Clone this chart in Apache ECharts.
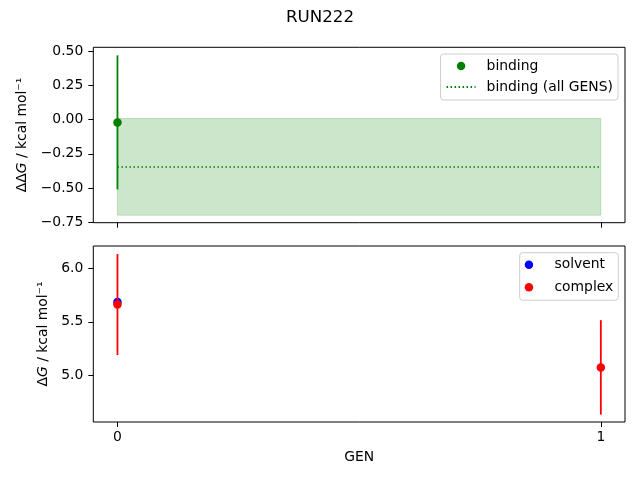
<!DOCTYPE html>
<html>
<head>
<meta charset="utf-8">
<script src="https://cdn.jsdelivr.net/npm/echarts@6/dist/echarts.min.js"></script>
<style>html,body{margin:0;padding:0;background:#fff}#c{width:640px;height:480px}</style>
</head>
<body>
<div id="c"></div>
<script>
// ---- data ----
const gens = [0, 1];
const bindingGen = [0];
const bindingVal = [-0.02];
const bindingErr = [0.49];
const bindingAll = -0.345;
const bindingAllErr = 0.353;
const solventGen = [0];
const solventVal = [5.685];
const complexGen = [0, 1];
const complexVal = [5.66, 5.075];
const complexErr = [0.47, 0.44];
const topTicks = [-0.75, -0.5, -0.25, 0, 0.25, 0.5];
const bottomTicks = [5.0, 5.5, 6.0];
const xTicks = [0, 1];

const FONT = 'DejaVu Sans';
const fs = 13.9;

function errData(xs, vs, es) {
  return xs.map((x, i) => [x, vs[i] - es[i], vs[i] + es[i]]);
}
function errRender(color) {
  return function (params, api) {
    const p1 = api.coord([api.value(0), api.value(1)]);
    const p2 = api.coord([api.value(0), api.value(2)]);
    return { type: 'line', shape: { x1: p1[0], y1: p1[1], x2: p2[0], y2: p2[1] },
      style: { stroke: color, lineWidth: 1.8 } };
  };
}
const fmt2 = v => (Math.abs(v) < 1e-9 ? '0.00' : (v < 0 ? '\u2212' : '') + Math.abs(v).toFixed(2));

const chart = echarts.init(document.getElementById('c'));
const axisCommon = {
  axisLine: { show: false, onZero: false },
  axisTick: { show: true, length: 5, lineStyle: { color: '#000', width: 1 } },
  splitLine: { show: false },
  axisLabel: { color: '#000', fontFamily: FONT, fontSize: fs }
};
const legendCommon = {
  orient: 'vertical', itemWidth: 29, itemHeight: 8.5,
  backgroundColor: 'rgba(255,255,255,0.8)', borderColor: '#cccccc', borderWidth: 1, borderRadius: 3,
  textStyle: { fontFamily: FONT, fontSize: fs, color: '#000', lineHeight: 14, padding: [0, 0, 0, 6] }
};
chart.setOption({
  animation: false,
  textStyle: { fontFamily: FONT },
  title: { text: 'RUN222', left: 'center', top: 4,
    textStyle: { fontFamily: FONT, fontSize: 16.7, fontWeight: 'normal', color: '#000' } },
  grid: [
    { left: 93.3, top: 47.3, width: 531.7, height: 175.4, show: true, borderColor: '#000', borderWidth: 1, backgroundColor: 'transparent' },
    { left: 93.3, top: 246, width: 531.7, height: 176, show: true, borderColor: '#000', borderWidth: 1, backgroundColor: 'transparent' }
  ],
  xAxis: [
    Object.assign({}, axisCommon, { type: 'value', gridIndex: 0, min: -0.05, max: 1.05,
      axisTick: Object.assign({}, axisCommon.axisTick, { customValues: xTicks }),
      axisLabel: { show: false } }),
    Object.assign({}, axisCommon, { type: 'value', gridIndex: 1, min: -0.05, max: 1.05,
      name: 'GEN', nameLocation: 'middle', nameGap: 28,
      nameTextStyle: { color: '#000', fontFamily: FONT, fontSize: fs },
      axisTick: Object.assign({}, axisCommon.axisTick, { customValues: xTicks }),
      axisLabel: Object.assign({}, axisCommon.axisLabel, { customValues: xTicks, margin: 8, formatter: v => String(v) }) })
  ],
  yAxis: [
    Object.assign({}, axisCommon, { type: 'value', gridIndex: 0, min: -0.753, max: 0.529,
      name: 'ΔΔ{i|G} / kcal mol⁻¹', nameLocation: 'middle', nameGap: 53,
      nameTextStyle: { color: '#000', fontFamily: FONT, fontSize: fs,
        rich: { i: { fontStyle: 'italic', fontFamily: FONT, fontSize: fs, color: '#000' } } },
      axisTick: Object.assign({}, axisCommon.axisTick, { customValues: topTicks }),
      axisLabel: Object.assign({}, axisCommon.axisLabel, { customValues: topTicks, margin: 10, formatter: fmt2 }) }),
    Object.assign({}, axisCommon, { type: 'value', gridIndex: 1, min: 4.5665, max: 6.2055,
      name: 'Δ{i|G} / kcal mol⁻¹', nameLocation: 'middle', nameGap: 42,
      nameTextStyle: { color: '#000', fontFamily: FONT, fontSize: fs,
        rich: { i: { fontStyle: 'italic', fontFamily: FONT, fontSize: fs, color: '#000' } } },
      axisTick: Object.assign({}, axisCommon.axisTick, { customValues: bottomTicks }),
      axisLabel: Object.assign({}, axisCommon.axisLabel, { customValues: bottomTicks, margin: 10, formatter: v => v.toFixed(1) }) })
  ],
  legend: [
    Object.assign({}, legendCommon, { right: 22, top: 54, padding: [5, 5, 6, 5], itemGap: 7,
      data: [{ name: 'binding', icon: 'circle' },
             { name: 'binding (all GENS)', itemStyle: { opacity: 0 } }] }),
    Object.assign({}, legendCommon, { right: 21.7, top: 252.7, padding: [5, 5, 6, 5], itemGap: 8.5,
      data: [{ name: 'solvent', icon: 'circle' }, { name: 'complex', icon: 'circle' }] })
  ],
  series: [
    { type: 'custom', name: 'band', xAxisIndex: 0, yAxisIndex: 0, silent: true,
      data: [[gens[0], gens[gens.length - 1], bindingAll - bindingAllErr, bindingAll + bindingAllErr]],
      renderItem: function (params, api) {
        const a = api.coord([api.value(0), api.value(3)]);
        const b = api.coord([api.value(1), api.value(2)]);
        return { type: 'rect', shape: { x: a[0], y: a[1], width: b[0] - a[0], height: b[1] - a[1] },
          style: { fill: 'rgba(0,128,0,0.2)', stroke: 'rgba(0,128,0,0.2)', lineWidth: 1 } };
      }, z: 1 },
    { type: 'custom', name: 'binding_err', xAxisIndex: 0, yAxisIndex: 0, silent: true,
      data: errData(bindingGen, bindingVal, bindingErr), renderItem: errRender('#008000'), z: 2 },
    { type: 'scatter', name: 'binding', xAxisIndex: 0, yAxisIndex: 0, symbolSize: 8.5,
      itemStyle: { color: '#008000', opacity: 1 }, data: bindingGen.map((x, i) => [x, bindingVal[i]]), z: 3 },
    { type: 'line', name: 'binding (all GENS)', xAxisIndex: 0, yAxisIndex: 0, symbol: 'none',
      lineStyle: { color: '#008000', width: 1.5, type: [1.5, 2.5] }, itemStyle: { color: '#008000' },
      data: [[gens[0], bindingAll], [gens[gens.length - 1], bindingAll]], z: 4 },
    { type: 'scatter', name: 'solvent', xAxisIndex: 1, yAxisIndex: 1, symbolSize: 8.5,
      itemStyle: { color: '#0000ff', opacity: 1 }, data: solventGen.map((x, i) => [x, solventVal[i]]), z: 2 },
    { type: 'custom', name: 'complex_err', xAxisIndex: 1, yAxisIndex: 1, silent: true,
      data: errData(complexGen, complexVal, complexErr), renderItem: errRender('#ff0000'), z: 3 },
    { type: 'scatter', name: 'complex', xAxisIndex: 1, yAxisIndex: 1, symbolSize: 8.5,
      itemStyle: { color: '#ff0000', opacity: 1 }, data: complexGen.map((x, i) => [x, complexVal[i]]), z: 4 }
  ]
});
</script>
</body>
</html>
